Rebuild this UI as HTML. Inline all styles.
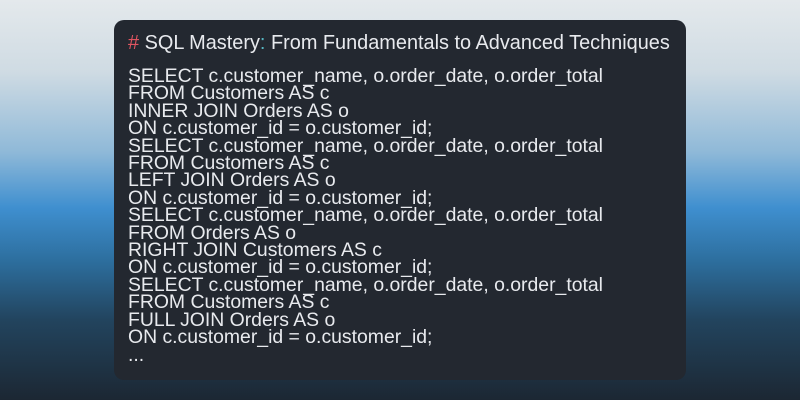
<!DOCTYPE html>
<html><head><style>
html,body{margin:0;padding:0;}
body{width:800px;height:400px;overflow:hidden;position:relative;
background:linear-gradient(180deg,#e4e9ec 0%,#cfdbe3 18%,#8fb9d8 38%,#3f8fcf 52%,#2d6f9f 65%,#22445e 80%,#1c2733 100%);
font-family:"Liberation Sans","DejaVu Sans",sans-serif;}
.card{position:absolute;left:114px;top:20px;width:572px;height:360px;background:#232830;border-radius:10px;}
.t{position:absolute;left:128px;top:32px;font-size:19.9px;color:#e8eaee;white-space:pre;}
.t .h{color:#e05561}.t .c{color:#56b6c2}
.code{position:absolute;left:128px;top:68px;font-size:19.4px;line-height:17.4px;color:#e8eaee;white-space:pre;}
</style></head><body>
<div class="card"></div>
<div class="t"><span class="h">#</span> SQL Mastery<span class="c">:</span> From Fundamentals to Advanced Techniques</div>
<div class="code">SELECT c.customer_name, o.order_date, o.order_total
FROM Customers AS c
INNER JOIN Orders AS o
ON c.customer_id = o.customer_id;
SELECT c.customer_name, o.order_date, o.order_total
FROM Customers AS c
LEFT JOIN Orders AS o
ON c.customer_id = o.customer_id;
SELECT c.customer_name, o.order_date, o.order_total
FROM Orders AS o
RIGHT JOIN Customers AS c
ON c.customer_id = o.customer_id;
SELECT c.customer_name, o.order_date, o.order_total
FROM Customers AS c
FULL JOIN Orders AS o
ON c.customer_id = o.customer_id;
...</div>
</body></html>
